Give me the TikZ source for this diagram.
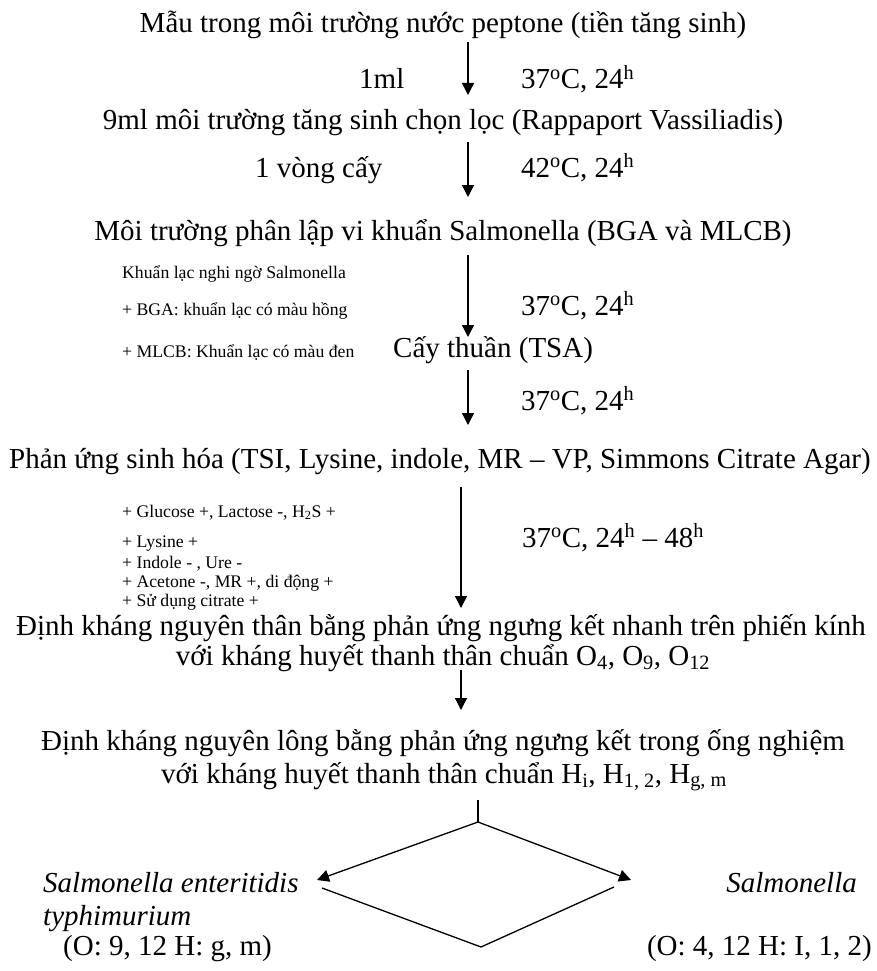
\documentclass[tikz,border=0pt]{standalone}
\usepackage{fontspec}
\setmainfont{Liberation Serif}
\usetikzlibrary{arrows.meta}
\begin{document}
\begin{tikzpicture}[x=1pt,y=-1pt,
  big/.style={inner sep=0pt, font=\fontsize{29}{30}\selectfont},
  bigit/.style={inner sep=0pt, font=\fontsize{29}{30}\selectfont\itshape},
  small/.style={inner sep=0pt, font=\fontsize{17.7}{20}\selectfont},
  flow/.style={line width=1.3pt, -{Triangle[length=12pt,width=12pt]}},
  plainline/.style={line width=1.3pt}]
\useasboundingbox (0,0) rectangle (877,971);

% main steps
\node[big, anchor=base] (s1) at (443,33) {Mẫu trong môi trường nước peptone (tiền tăng sinh)};
\node[big, anchor=base west] (l1a) at (359,89) {1ml};
\node[big, anchor=base west] (l1b) at (521,89) {37\textsuperscript{o}C, 24\textsuperscript{h}};
\node[big, anchor=base] (s2) at (443,130) {9ml môi trường tăng sinh chọn lọc (Rappaport Vassiliadis)};
\node[big, anchor=base west] (l2a) at (255,177) {1 vòng cấy};
\node[big, anchor=base west] (l2b) at (521,177) {42\textsuperscript{o}C, 24\textsuperscript{h}};
\node[big, anchor=base] (s3) at (443,240) {Môi trường phân lập vi khuẩn Salmonella (BGA và MLCB)};
\node[small, anchor=base west] (n3a) at (122,278) {Khuẩn lạc nghi ngờ Salmonella};
\node[small, anchor=base west] (n3b) at (122,315) {+ BGA: khuẩn lạc có màu hồng};
\node[small, anchor=base west] (n3c) at (122,357) {+ MLCB: Khuẩn lạc có màu đen};
\node[big, anchor=base west] (l3) at (521,315) {37\textsuperscript{o}C, 24\textsuperscript{h}};
\node[big, anchor=base west] (s4) at (393,357) {Cấy thuần (TSA)};
\node[big, anchor=base west] (l4) at (521,410) {37\textsuperscript{o}C, 24\textsuperscript{h}};
\node[big, anchor=base] (s5) at (440,468) {Phản ứng sinh hóa (TSI, Lysine, indole, MR – VP, Simmons Citrate Agar)};
\node[small, anchor=base west] (n5a) at (122,517) {+ Glucose +, Lactose -, H\textsubscript{2}S +};
\node[small, anchor=base west] (n5b) at (122,547) {+ Lysine +};
\node[small, anchor=base west] (n5c) at (122,568) {+ Indole - , Ure -};
\node[small, anchor=base west] (n5d) at (122,587) {+ Acetone -, MR +, di động +};
\node[small, anchor=base west] (n5e) at (122,606) {+ Sử dụng citrate +};
\node[big, anchor=base west] (l5) at (522,547) {37\textsuperscript{o}C, 24\textsuperscript{h} – 48\textsuperscript{h}};
\node[big, anchor=base] (s6a) at (441,635) {Định kháng nguyên thân bằng phản ứng ngưng kết nhanh trên phiến kính};
\node[big, anchor=base] (s6b) at (443,665) {với kháng huyết thanh thân chuẩn O\textsubscript{4}, O\textsubscript{9}, O\textsubscript{12}};
\node[big, anchor=base] (s7a) at (443,750) {Định kháng nguyên lông bằng phản ứng ngưng kết trong ống nghiệm};
\node[big, anchor=base] (s7b) at (444,783) {với kháng huyết thanh thân chuẩn H\textsubscript{i}, H\textsubscript{1, 2}, H\textsubscript{g, m}};

% results
\node[bigit, anchor=base west] (r1a) at (43,892) {Salmonella enteritidis};
\node[bigit, anchor=base west] (r1b) at (43,925) {typhimurium};
\node[big, anchor=base west] (r1c) at (63,955) {(O: 9, 12 H: g, m)};
\node[bigit, anchor=base east] (r2a) at (857,892) {Salmonella};
\node[big, anchor=base east] (r2c) at (872,955) {(O: 4, 12 H: I, 1, 2)};

% arrow coordinates
\coordinate (a1s) at (468,42);  \coordinate (a1e) at (468,95);
\coordinate (a2s) at (468,142); \coordinate (a2e) at (468,197);
\coordinate (a3s) at (468,255); \coordinate (a3e) at (468,337);
\coordinate (a4s) at (468,370); \coordinate (a4e) at (468,425);
\coordinate (a5s) at (461,487); \coordinate (a5e) at (461,608);
\coordinate (a6s) at (461,670); \coordinate (a6e) at (461,710);
\coordinate (vt) at (478,800);
\coordinate (top) at (478,822);
\coordinate (lt) at (317,880);
\coordinate (rt) at (631,880);
\coordinate (bl) at (322,888);
\coordinate (bb) at (481,947);
\coordinate (br) at (614,887);

\draw[flow] (a1s) -- (a1e);
\draw[flow] (a2s) -- (a2e);
\draw[flow] (a3s) -- (a3e);
\draw[flow] (a4s) -- (a4e);
\draw[flow] (a5s) -- (a5e);
\draw[flow] (a6s) -- (a6e);
\draw[plainline] (vt) -- (top);
\draw[flow] (top) -- (lt);
\draw[flow] (top) -- (rt);
\draw[plainline] (bl) -- (bb) -- (br);
\end{tikzpicture}
\end{document}
